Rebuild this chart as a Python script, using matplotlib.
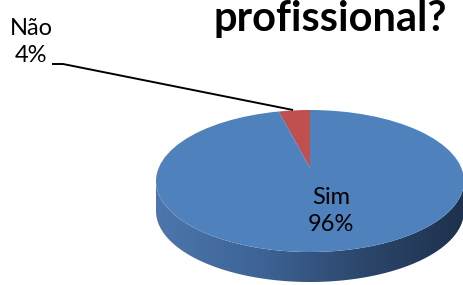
import matplotlib.pyplot as plt
from matplotlib.patches import Circle, Polygon
from matplotlib.colors import LinearSegmentedColormap
import numpy as np

labels = ['Sim', 'Não']
values = [96, 4]
colors = ['#4F81BD', '#C0504D']
title = 'profissional?'

# pixel frame of the picture -> pie units (one x unit = 154 px, one y unit = 71 px)
W, H = 464, 285
cx, cy, rx, ry = 310, 181, 154, 71


def px(x, y):
    return (x - cx) / rx, (cy - y) / ry


fig = plt.figure(figsize=(W / 100, H / 100), dpi=100)
ax = fig.add_axes([0, 0, 1, 1])

# top face, apex shifted up a little for the perspective look
apex = px(cx, 168)
wedges, _ = ax.pie(values, colors=colors, startangle=90, counterclock=False,
                   center=apex, radius=1.5, wedgeprops=dict(linewidth=0))
top = Circle((0, 0), 1, facecolor='none', edgecolor='none')
ax.add_patch(top)
for w in wedges:
    w.set_clip_on(True)
    w.set_clip_path(top)

# side of the disc (front half, all of it is "Sim")
t = 30 / ry
th = np.linspace(np.pi, 2 * np.pi, 200)
xs, ys = np.cos(th), np.sin(th)
side = np.concatenate([np.column_stack([xs, ys]),
                       np.column_stack([xs[::-1], ys[::-1] - t])])
side_patch = Polygon(side, closed=True, facecolor='none', edgecolor='none')
ax.add_patch(side_patch)
shade = LinearSegmentedColormap.from_list(
    'side', ['#4C76AD', '#3E6496', '#2C476C', '#1E314D'])
grad = np.linspace(0, 1, 256).reshape(1, -1)
img = ax.imshow(grad, cmap=shade, extent=[-1, 1, -1 - t, 0], aspect='auto',
                zorder=0.5)
img.set_clip_path(side_patch)

# labels
ax.text(*px(331, 211), labels[0] + '\n' + str(values[0]) + '%', ha='center',
        va='center', fontsize=17, family='Lato', linespacing=1.35)
ax.text(*px(31, 42), labels[1] + '\n' + str(values[1]) + '%', ha='center',
        va='center', fontsize=17, family='Lato', linespacing=1.35)
lx, ly = zip(px(52, 64), px(63, 64), px(293, 110))
ax.plot(lx, ly, color='black', lw=1.4, solid_capstyle='butt')

ax.text(*px(214, 31), title, ha='left', va='baseline', fontsize=30,
        fontweight='bold', family='Lato')

ax.set_xlim(px(0, 0)[0], px(W, 0)[0])
ax.set_ylim(px(0, H)[1], px(0, 0)[1])
ax.set_aspect('auto')
ax.axis('off')

plt.savefig('out.png', dpi=100)
